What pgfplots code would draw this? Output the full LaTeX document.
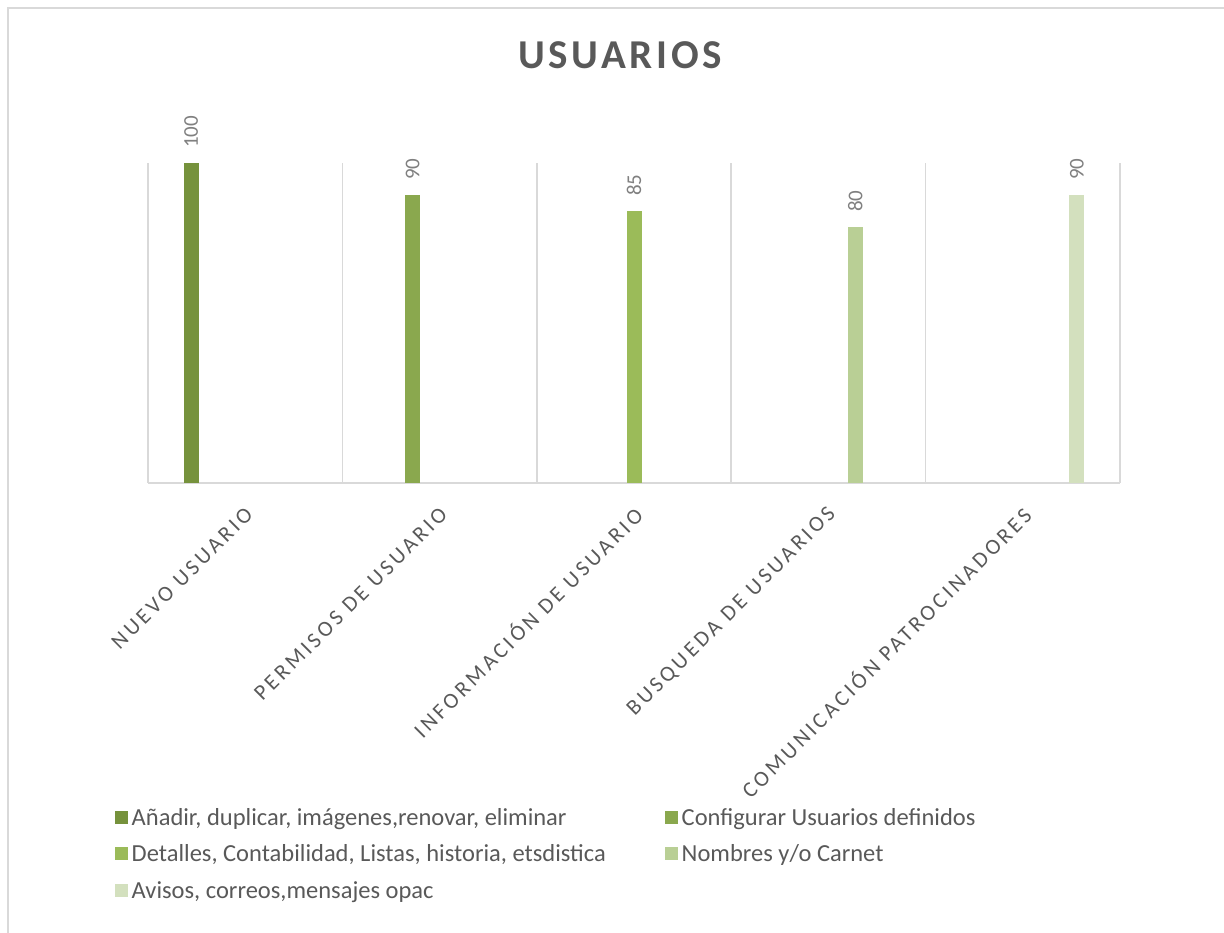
\documentclass[border=0pt]{standalone}
\usepackage{fontspec}
\setmainfont{Carlito}
\usepackage{pgfplots}
\pgfplotsset{compat=1.18}
\definecolor{s1}{HTML}{76923C}
\definecolor{s2}{HTML}{8AA84E}
\definecolor{s3}{HTML}{9BBB59}
\definecolor{s4}{HTML}{B9CF95}
\definecolor{s5}{HTML}{D3E0BE}
\definecolor{txt}{HTML}{595959}
\definecolor{lbl}{HTML}{808080}
\definecolor{grd}{HTML}{D9D9D9}
\newfontfamily\spacedfont[LetterSpace=15]{Carlito}
\newfontfamily\titlefont[LetterSpace=9]{Carlito}
\pgfplotsset{mylegend/.style={legend image code/.code={\fill[##1,draw=none] (0pt,-6.5pt) rectangle (13pt,6.5pt);}}}
\begin{document}
\begin{tikzpicture}[x=1pt,y=1pt]
\useasboundingbox (0,0) rectangle (1224,933);
\draw[grd, line width=2pt] (8,0) -- (8,925) -- (1224,925);
\node[text=txt, font=\titlefont\fontsize{41}{48}\selectfont\bfseries] at (620,878) {USUARIOS};
\begin{axis}[
 at={(148pt,450pt)}, anchor=south west,
 scale only axis, width=972pt, height=320pt,
 xmin=-0.5, xmax=4.5, ymin=0, ymax=100,
 axis x line=bottom, axis y line=none,
 x axis line style={-, grd, line width=1.5pt},
 ytick=\empty,
 xtick={0,1,2,3,4},
 xticklabels={NUEVO USUARIO, PERMISOS DE USUARIO, INFORMACIÓN DE USUARIO, BUSQUEDA DE USUARIOS, COMUNICACIÓN PATROCINADORES},
 xticklabel style={xshift=4pt, yshift=-28pt, rotate=45, anchor=east, inner sep=0pt, text=txt, font=\spacedfont\fontsize{22}{26}\selectfont},
 minor xtick={-0.5,0.5,1.5,2.5,3.5,4.5},
 xminorgrids, minor grid style={grd, line width=1.5pt},
 major tick length=0pt, minor tick length=0pt,
 ybar=12pt, bar width=15pt,
 clip=false,
 /pgf/number format/assume math mode=true,
 nodes near coords,
 nodes near coords style={rotate=90, anchor=west, inner xsep=15pt, text=lbl, font=\fontsize{21}{25}\selectfont},
 legend columns=2,
 legend cell align=left,
 legend style={at={(-0.037,-1.003)}, anchor=north west, draw=none, fill=none, font=\fontsize{24.5}{28}\selectfont, text=txt, row sep=14pt, nodes={inner xsep=3.5pt}, /tikz/every even column/.append style={column sep=0pt}},
]
\addplot[fill=s1, draw=none, mylegend] coordinates {(0,100)};
\addlegendentry{\makebox[530pt][l]{Añadir, duplicar, imágenes,renovar, eliminar}}
\addplot[fill=s2, draw=none, mylegend] coordinates {(1,90)};
\addlegendentry{Configurar Usuarios definidos}
\addplot[fill=s3, draw=none, mylegend] coordinates {(2,85)};
\addlegendentry{\makebox[530pt][l]{Detalles, Contabilidad, Listas, historia, etsdistica}}
\addplot[fill=s4, draw=none, mylegend] coordinates {(3,80)};
\addlegendentry{Nombres y/o Carnet}
\addplot[fill=s5, draw=none, mylegend] coordinates {(4,90)};
\addlegendentry{\makebox[530pt][l]{Avisos, correos,mensajes opac}}
\end{axis}
\end{tikzpicture}
\end{document}
